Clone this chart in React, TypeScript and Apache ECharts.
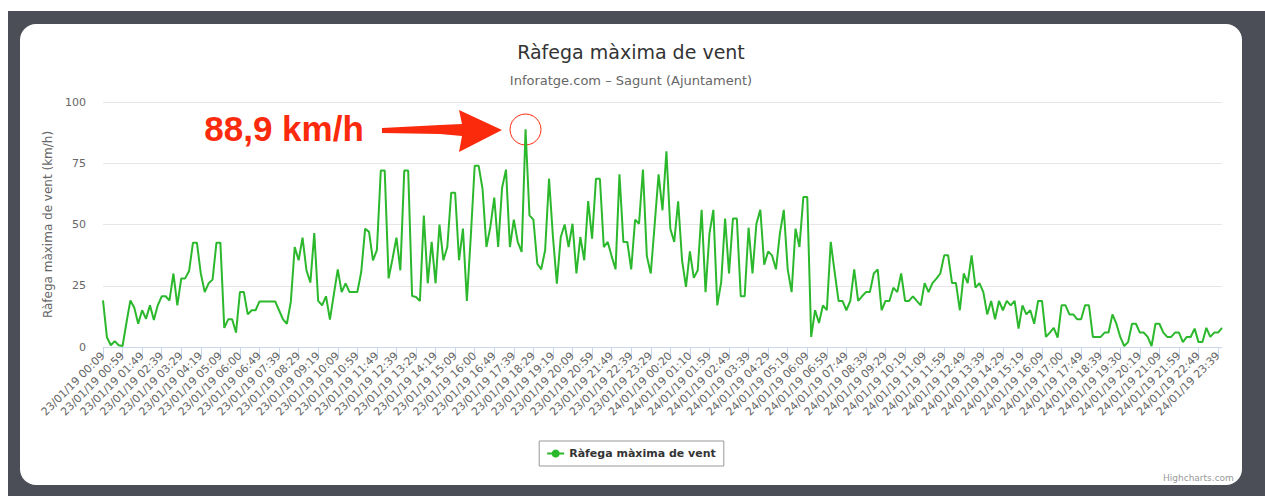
import React, { useEffect, useRef } from "react";
import * as echarts from "echarts";

const tickLabels: string[] = [
  "23/01/19 00:09", "23/01/19 00:59", "23/01/19 01:49", "23/01/19 02:39", "23/01/19 03:29",
  "23/01/19 04:19", "23/01/19 05:09", "23/01/19 06:00", "23/01/19 06:49", "23/01/19 07:39",
  "23/01/19 08:29", "23/01/19 09:19", "23/01/19 10:09", "23/01/19 10:59", "23/01/19 11:49",
  "23/01/19 12:39", "23/01/19 13:29", "23/01/19 14:19", "23/01/19 15:09", "23/01/19 16:00",
  "23/01/19 16:49", "23/01/19 17:39", "23/01/19 18:29", "23/01/19 19:19", "23/01/19 20:09",
  "23/01/19 20:59", "23/01/19 21:49", "23/01/19 22:39", "23/01/19 23:29", "24/01/19 00:20",
  "24/01/19 01:10", "24/01/19 01:59", "24/01/19 02:49", "24/01/19 03:39", "24/01/19 04:29",
  "24/01/19 05:19", "24/01/19 06:09", "24/01/19 06:59", "24/01/19 07:49", "24/01/19 08:39",
  "24/01/19 09:29", "24/01/19 10:19", "24/01/19 11:09", "24/01/19 11:59", "24/01/19 12:49",
  "24/01/19 13:39", "24/01/19 14:29", "24/01/19 15:19", "24/01/19 16:09", "24/01/19 17:00",
  "24/01/19 17:49", "24/01/19 18:39", "24/01/19 19:30", "24/01/19 20:19", "24/01/19 21:09",
  "24/01/19 21:59", "24/01/19 22:49", "24/01/19 23:39",
];

// Wind gust values (km/h), 10-minute readings
const gustDay23a: number[] = [
  19, 4, 0.7, 2.4, 0.7, 0.4, 10, 19, 16, 9.5, 15, 11.5, 17, 11, 17, 20.7, 20.7, 19, 30, 17,
  28, 28, 31, 42.6, 42.6, 30, 22.4, 26, 27.5, 42.6, 42.6, 7.8, 11.3, 11.3, 5.9, 22.4, 22.4, 13.3, 15, 15,
  18.6, 18.6, 18.6, 18.6, 18.6, 15, 11.3, 9.5, 18.4, 40.8, 35.4, 44.6, 31.3, 26.3, 46.5, 18.8, 17, 20.7, 11.2, 21.5,
  31.7, 22.4, 26, 22.4, 22.4, 22.4, 30.6, 48.3, 47, 35.4, 39.5,
];
const gustDay23b: number[] = [
  72, 72, 28, 36, 44.6, 31.3, 72, 72, 20.8, 20.4, 18.8, 53.7, 26, 42.9, 26, 50, 35.4, 40.8, 63, 63,
  35.4, 48.3, 18.8, 45, 74, 74, 64.6, 40.8, 49, 61, 40.8, 65, 72.4, 40.8, 52, 42.9, 38.8, 88.9, 53.7, 52,
  34, 31.7, 39.5, 68.7, 45, 25.9, 44.9, 50, 40.8, 50.3, 30, 44.9, 35.4, 59.6, 44.2, 68.7, 68.7, 40.8, 42.9, 37.1,
  31.7, 70.5, 42.9, 42.9, 31.7, 52, 50.3, 72.4,
];
const gustDay24a: number[] = [
  37.1, 30, 50, 70.5, 55.8, 79.9, 48.3, 42.9, 59.5, 35.4, 24.5, 39, 28.2, 31.3, 56, 22.4, 46.3, 56, 17, 26.5,
  52.4, 30, 52.4, 52.4, 20.7, 20.7, 48.7, 30, 50.3, 56, 33.6, 39, 37.4, 31.7, 46.3, 56, 31.7, 22.4, 48.3, 40.8,
  61.2, 61.2, 4.1, 15, 9.8, 17, 15, 42.9, 30.6, 18.8, 18.8, 15, 18.8, 31.7, 18.8, 20.7, 22.4, 22.4, 30, 31.7,
  15, 18.8, 18.8, 24.2, 22.4, 30, 18.8, 18.8, 20.7, 18.8, 17,
];
const gustDay24b: number[] = [
  26.1, 22.4, 26.1, 27.9, 30, 37.4, 37.4, 26.1, 26.1, 15, 30, 26.1, 37.4, 24.2, 26.1, 22.4, 13.3, 18.8, 11.3, 18.8,
  15, 18.8, 17, 18.8, 7.5, 17, 13.3, 15, 9.5, 18.8, 18.8, 4.1, 5.9, 7.8, 3.8, 17, 17, 13.3, 13.3, 11.3,
  11.3, 17, 17, 4.1, 4.1, 4.1, 5.9, 5.9, 13.3, 9.5, 4.1, 0.4, 2, 9.5, 9.5, 5.9, 5.9, 4.1, 0.4, 9.5,
  9.5, 5.9, 4.1, 4.1, 5.9, 5.9, 2, 4.1, 4.1, 7.5, 2, 2, 7.8, 4.1, 5.9, 5.9, 7.8,
];

const gustValues: number[] = [...gustDay23a, ...gustDay23b, ...gustDay24a, ...gustDay24b];

const TITLE = "Ràfega màxima de vent";
const SUBTITLE = "Inforatge.com – Sagunt (Ajuntament)";
const Y_NAME = "Ràfega màxima de vent (km/h)";
const SERIES_NAME = "Ràfega màxima de vent";
const PEAK_LABEL = "88,9 km/h";

function shiftLabel(label: string, minutes: number): string {
  const [date, time] = label.split(" ");
  const [h, m] = time.split(":").map(Number);
  let t = h * 60 + m + minutes;
  t = ((t % 1440) + 1440) % 1440;
  const hh = String(Math.floor(t / 60)).padStart(2, "0");
  const mm = String(t % 60).padStart(2, "0");
  return `${date} ${hh}:${mm}`;
}

const categories: string[] = gustValues.map((_, i) => {
  const base = tickLabels[Math.floor(i / 5)] ?? tickLabels[tickLabels.length - 1];
  return i % 5 === 0 ? base : shiftLabel(base, (i % 5) * 10);
});

const FONT = "'DejaVu Sans', 'Noto Sans', sans-serif";
const GREEN = "#2cb82c";
const RED = "#fb2a0c";

export default function App() {
  const ref = useRef<HTMLDivElement>(null);

  useEffect(() => {
    if (!ref.current) return;
    const chart = echarts.init(ref.current, undefined, { renderer: "svg" });
    chart.setOption({
      animation: false,
      backgroundColor: "transparent",
      textStyle: { fontFamily: FONT },
      title: {
        text: TITLE,
        subtext: SUBTITLE,
        left: "center",
        top: 13,
        itemGap: 13,
        textStyle: { fontFamily: FONT, fontSize: 19, fontWeight: "normal", color: "#333333" },
        subtextStyle: { fontFamily: FONT, fontSize: 13, color: "#666666" },
      },
      legend: {
        bottom: 19,
        left: "center",
        borderColor: "#999999",
        borderWidth: 1,
        padding: [7, 8, 7, 7],
        itemWidth: 17,
        itemHeight: 10,
        textStyle: { fontFamily: FONT, fontSize: 11, fontWeight: "bold", color: "#333333" },
        data: [SERIES_NAME],
      },
      grid: { left: 83, right: 20, top: 78, bottom: 138, containLabel: false },
      xAxis: {
        type: "category",
        data: categories,
        boundaryGap: false,
        axisLine: { lineStyle: { color: "#ccd6eb" } },
        axisTick: { show: true, interval: 4, length: 9, lineStyle: { color: "#ccd6eb" } },
        axisLabel: {
          interval: 4,
          rotate: 45,
          fontSize: 11,
          color: "#666666",
          margin: 7,
          fontFamily: FONT,
        },
        splitLine: { show: false },
      },
      yAxis: {
        type: "value",
        min: 0,
        max: 100,
        interval: 25,
        name: Y_NAME,
        nameLocation: "middle",
        nameGap: 47,
        nameRotate: 90,
        nameTextStyle: { fontFamily: FONT, fontSize: 12, color: "#666666" },
        axisLine: { show: false },
        axisTick: { show: false },
        axisLabel: { fontSize: 11, color: "#666666", margin: 17, fontFamily: FONT },
        splitLine: { lineStyle: { color: "#e6e6e6" } },
      },
      series: [
        {
          name: SERIES_NAME,
          type: "line",
          data: gustValues,
          symbol: "circle",
          symbolSize: 8,
          showSymbol: false,
          lineStyle: { color: GREEN, width: 2 },
          itemStyle: { color: GREEN },
        },
      ],
      graphic: [
        {
          type: "text",
          left: 1143,
          top: 449,
          style: { text: "Highcharts.com", fontSize: 9, fill: "#999999", fontFamily: FONT },
        },
        {
          type: "text",
          x: 264,
          y: 104,
          style: {
            text: PEAK_LABEL,
            fontSize: 35,
            fontWeight: "bold",
            fontFamily: "'Liberation Sans', Arial, sans-serif",
            fill: RED,
            stroke: "#ffffff",
            lineWidth: 3,
            align: "center",
            verticalAlign: "middle",
            shadowColor: "rgba(0,0,0,0.3)",
            shadowBlur: 4,
            shadowOffsetY: 1,
          },
        },
        {
          type: "polygon",
          shape: {
            points: [
              [362, 104],
              [420, 101],
              [442, 100],
              [439, 86],
              [482, 106],
              [439, 128],
              [442, 112],
              [420, 110],
              [362, 109],
            ],
          },
          style: { fill: RED },
        },
        {
          type: "circle",
          shape: { cx: 505.5, cy: 105.5, r: 15.5 },
          style: { fill: "none", stroke: RED, lineWidth: 1 },
        },
      ],
    });
    return () => chart.dispose();
  }, []);

  return (
    <div
      style={{
        position: "fixed",
        left: 8,
        top: 11,
        right: 0,
        bottom: 0,
        background: "#4b4e56",
      }}
    >
      <div
        style={{
          position: "absolute",
          left: 12,
          top: 13,
          width: 1222,
          height: 461,
          background: "#ffffff",
          borderRadius: 16,
          overflow: "hidden",
        }}
      >
        <div ref={ref} style={{ width: 1222, height: 461 }} />
      </div>
    </div>
  );
}
